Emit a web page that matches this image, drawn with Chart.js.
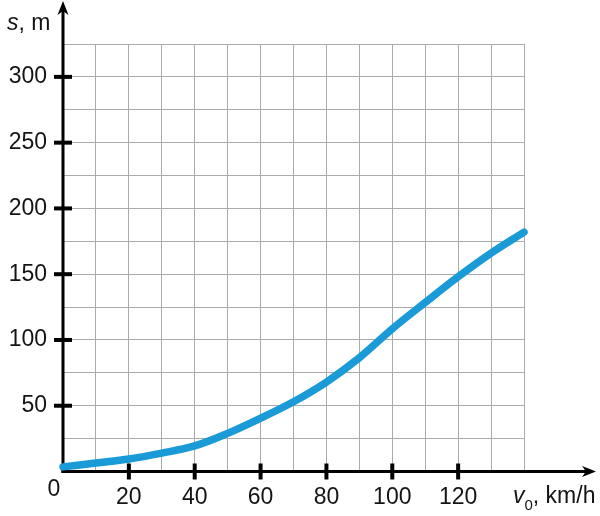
<!DOCTYPE html>
<html>
<head>
<meta charset="utf-8">
<script src="https://cdn.jsdelivr.net/npm/chart.js@4/dist/chart.umd.min.js"></script>
<style>
  html, body { margin: 0; padding: 0; background: #ffffff; }
  #wrap { width: 600px; height: 516px; }
</style>
</head>
<body>
<div id="wrap"><canvas id="c" width="600" height="516"></canvas></div>
<script>
// ---- data ----
const speeds = [0, 10, 20, 30, 40, 50, 60, 70, 80, 90, 100, 110, 120, 130, 140];
const distances = [3.5, 6.5, 9.5, 14, 19.5, 29, 40.5, 53, 68, 86.5, 108.5, 128.5, 148, 166, 182];
const xTickLabels = [20, 40, 60, 80, 100, 120];
const yTickLabels = [50, 100, 150, 200, 250, 300];
const originLabel = '0';

const FONT = '"Liberation Sans", Arial, sans-serif';
const TEXT = '#141414';

const axesPlugin = {
  id: 'axesPlugin',
  beforeDatasetsDraw(chart) {
    const { ctx, scales } = chart;
    const x0 = scales.x.getPixelForValue(0);
    const y0 = scales.y.getPixelForValue(0);
    ctx.save();
    ctx.strokeStyle = '#000';
    ctx.fillStyle = '#000';
    ctx.lineWidth = 3;
    ctx.lineCap = 'butt';
    // y axis
    const yTip = 1;
    ctx.beginPath();
    ctx.moveTo(x0, y0 + 1.5);
    ctx.lineTo(x0, yTip + 8);
    ctx.stroke();
    ctx.beginPath();
    ctx.moveTo(x0, yTip);
    ctx.lineTo(x0 - 5.5, yTip + 14);
    ctx.lineTo(x0, yTip + 10);
    ctx.lineTo(x0 + 5.5, yTip + 14);
    ctx.closePath();
    ctx.fill();
    // x axis
    const xTip = 596;
    ctx.beginPath();
    ctx.moveTo(x0 - 1.5, y0);
    ctx.lineTo(xTip - 8, y0);
    ctx.stroke();
    ctx.beginPath();
    ctx.moveTo(xTip, y0);
    ctx.lineTo(xTip - 14, y0 - 5.5);
    ctx.lineTo(xTip - 10, y0);
    ctx.lineTo(xTip - 14, y0 + 5.5);
    ctx.closePath();
    ctx.fill();
    // tick marks
    ctx.lineWidth = 4;
    yTickLabels.forEach(v => {
      const py = scales.y.getPixelForValue(v);
      ctx.beginPath();
      ctx.moveTo(x0 - 9, py);
      ctx.lineTo(x0 + 9, py);
      ctx.stroke();
    });
    xTickLabels.forEach(v => {
      const px = scales.x.getPixelForValue(v);
      ctx.beginPath();
      ctx.moveTo(px, y0 - 8);
      ctx.lineTo(px, y0 + 8);
      ctx.stroke();
    });
    ctx.restore();
  },
  afterDraw(chart) {
    const { ctx, scales } = chart;
    const x0 = scales.x.getPixelForValue(0);
    const y0 = scales.y.getPixelForValue(0);
    ctx.save();
    ctx.fillStyle = TEXT;
    ctx.textBaseline = 'alphabetic';
    // origin label
    ctx.font = '23px ' + FONT;
    ctx.textAlign = 'center';
    ctx.fillText(originLabel, x0 - 9, y0 + 24);
    // y axis title: s, m
    ctx.textAlign = 'left';
    let x = 7;
    ctx.font = 'italic 23px ' + FONT;
    ctx.fillText('s', x, 29.5);
    x += ctx.measureText('s').width;
    ctx.font = '23px ' + FONT;
    ctx.fillText(', m', x, 29.5);
    // x axis title: v0, km/h
    x = 513;
    ctx.font = 'italic 23px ' + FONT;
    ctx.fillText('v', x, 503);
    x += ctx.measureText('v').width;
    ctx.font = '15px ' + FONT;
    ctx.fillText('0', x, 510);
    x += ctx.measureText('0').width;
    ctx.font = '23px ' + FONT;
    ctx.fillText(', km/h', x, 503);
    ctx.restore();
  }
};

new Chart(document.getElementById('c'), {
  type: 'line',
  data: {
    datasets: [{
      data: speeds.map((v, i) => ({ x: v, y: distances[i] })),
      borderColor: '#1a9ad6',
      borderWidth: 7.5,
      borderCapStyle: 'round',
      borderJoinStyle: 'round',
      pointRadius: 0,
      tension: 0.35,
      fill: false,
      clip: false
    }]
  },
  options: {
    responsive: false,
    animation: false,
    devicePixelRatio: 1,
    layout: { padding: { top: 44, right: 76, left: 0, bottom: 0 } },
    plugins: { legend: { display: false }, tooltip: { enabled: false } },
    scales: {
      x: {
        type: 'linear',
        min: 0, max: 140,
        afterFit(s) { s.height = 44.5; },
        grid: { color: '#ababab', lineWidth: 1, drawTicks: false },
        border: { display: false },
        ticks: {
          stepSize: 10, autoSkip: false, maxRotation: 0, padding: 12,
          color: TEXT, font: { family: FONT, size: 23 },
          callback: v => xTickLabels.includes(v) ? String(v) : ''
        }
      },
      y: {
        type: 'linear',
        min: 0, max: 325,
        afterFit(s) { s.width = 63; },
        grid: { color: '#ababab', lineWidth: 1, drawTicks: false },
        border: { display: false },
        ticks: {
          stepSize: 25, autoSkip: false, padding: 16,
          color: TEXT, font: { family: FONT, size: 23 },
          callback: v => yTickLabels.includes(v) ? String(v) : ''
        }
      }
    }
  },
  plugins: [axesPlugin]
});
</script>
</body>
</html>
